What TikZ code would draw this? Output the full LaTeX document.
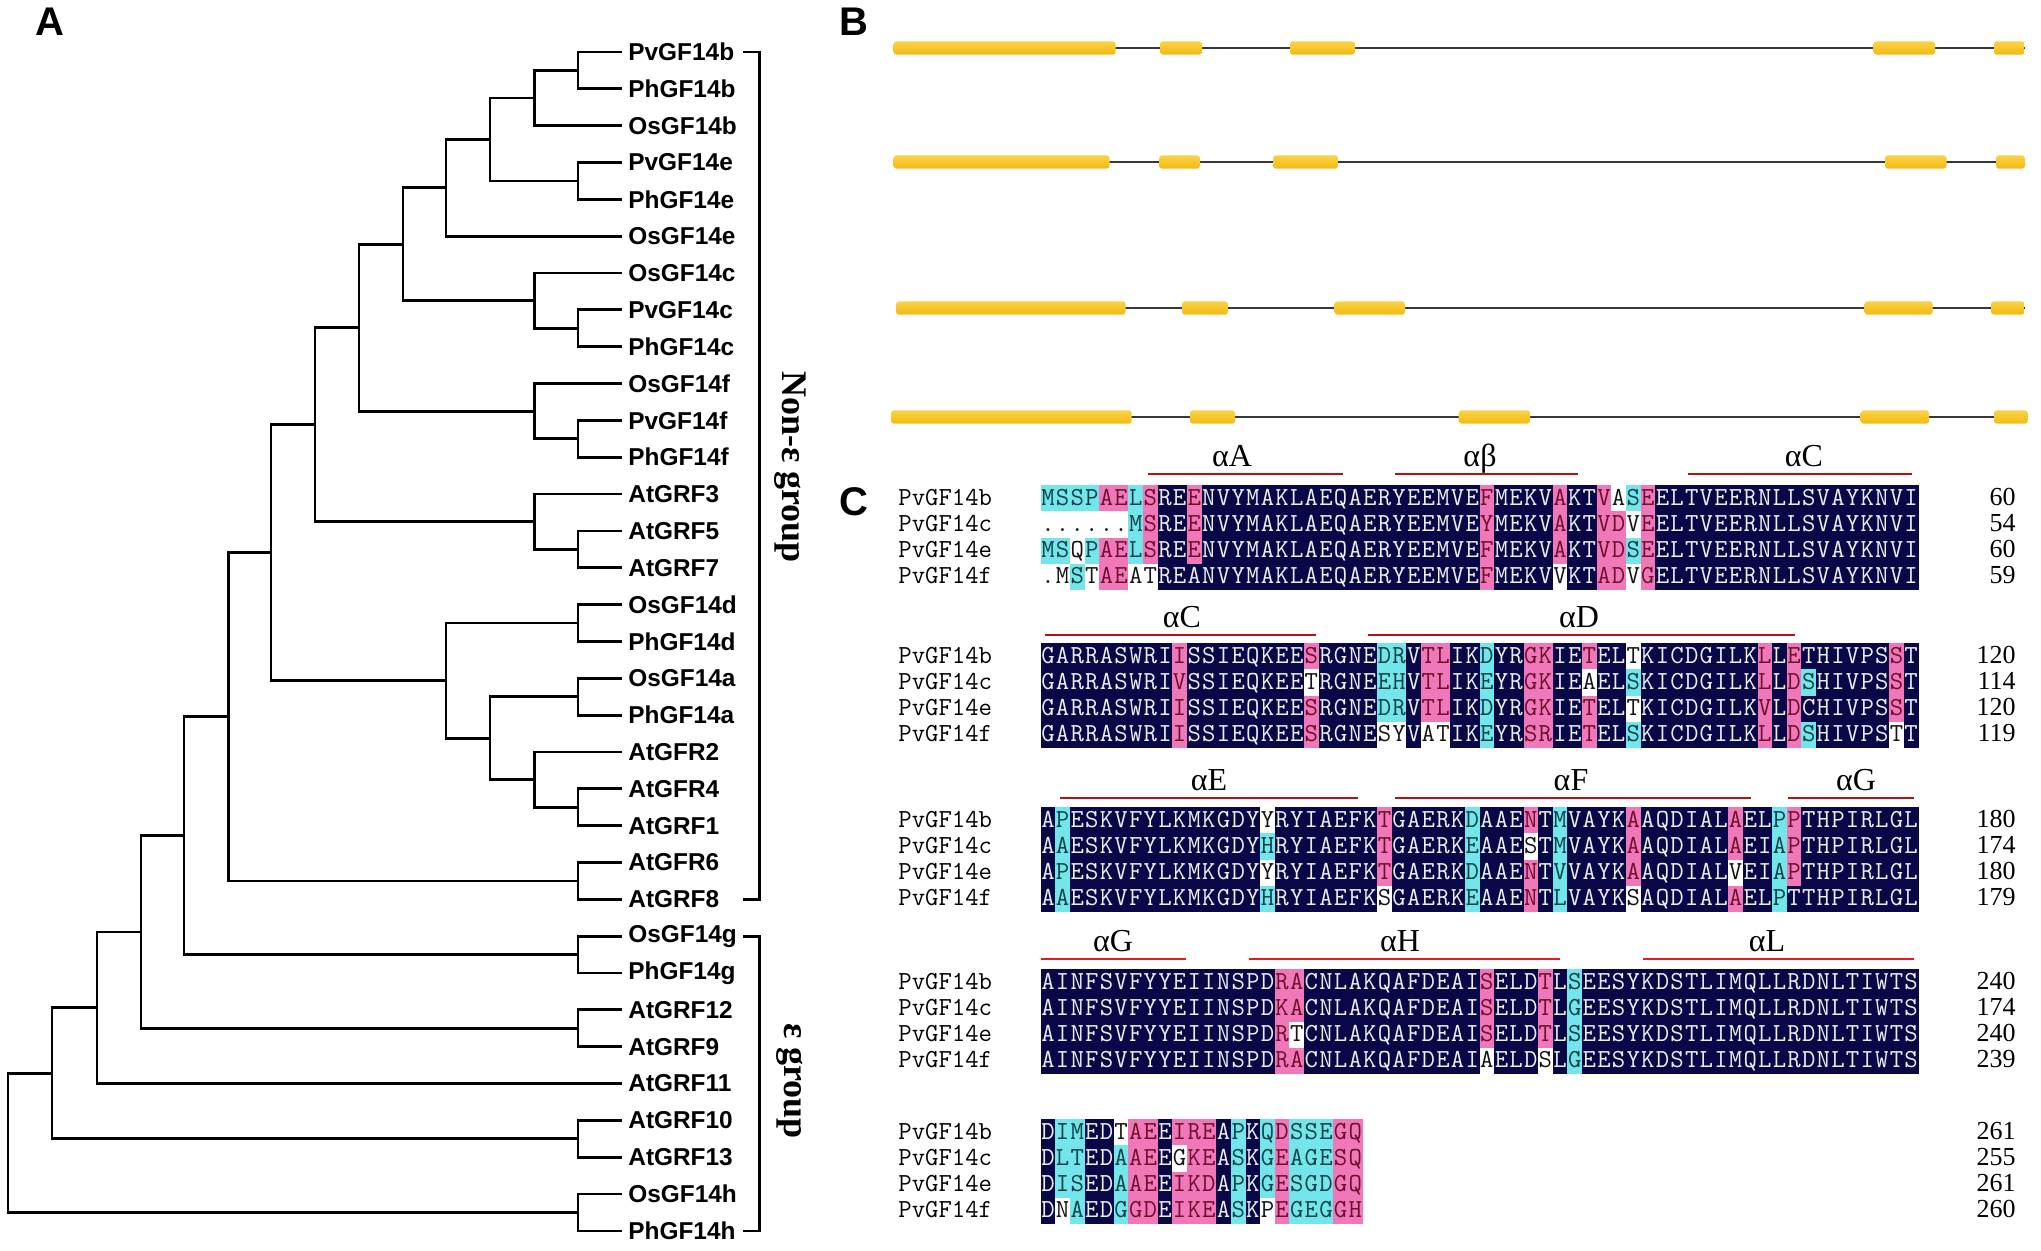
\documentclass[tikz,border=0pt]{standalone}
\usepackage{fontspec}
\setmainfont{Liberation Serif}
\setsansfont{Liberation Sans}
\usetikzlibrary{calc, positioning}

\definecolor{navy}{RGB}{8,8,72}
\definecolor{pinkcell}{RGB}{240,120,185}
\definecolor{cyancell}{RGB}{115,230,235}
\definecolor{exonyellow}{RGB}{243,186,18}
\definecolor{exonlight}{RGB}{250,210,70}
\definecolor{introngray}{RGB}{55,55,55}
\definecolor{helixred}{RGB}{175,20,20}
\definecolor{brightred}{RGB}{235,25,25}
\definecolor{txtn}{RGB}{238,238,242}
\definecolor{txtp}{RGB}{110,15,45}
\definecolor{txtc}{RGB}{15,65,70}
\definecolor{txtw}{RGB}{20,20,20}

\newcount\alncol
\newcommand\clade[4]{%
  \path ($(#3)!.5!(#4)$) coordinate (#1m);
  \coordinate (#1) at (#1m -| #2,0);
  \draw[branch] (#3) -| (#1) |- (#4);}
\newcommand\alncell[2]{%
  \fill[cell#2] ({1040.7+14.63*\the\alncol},{\alny-13.1}) rectangle ++(14.9,26.3);
  \node[res, text=txt#2] (\alnid-\the\alncol) at ({1048+14.63*\the\alncol},{\alny+7}) {#1};}
\def\alnnext#1#2\relax#3#4\relax{%
  \alncell{#1}{#3}%
  \global\advance\alncol by 1
  \ifx\relax#2\relax\else\alnnext#2\relax#4\relax\fi}
\newcommand\alnrow[6]{%
  \node[seqname] (#1name) at (898,{#2+7}) {#3};
  \node[seqnum] (#1num) at (2016,{#2+7}) {#4};
  \global\alncol=0
  \def\alnid{#1}\def\alny{#2}%
  \alnnext#5\relax#6\relax}

\begin{document}
\begin{tikzpicture}[
	x=0.5pt, y=-0.5pt,
	branch/.style = {line width=1.4pt},
	leaf/.style = {anchor=west, inner sep=3pt, font=\sffamily\bfseries\fontsize{12.2}{14}\selectfont},
	grouplabel/.style = {rotate=-90, font=\bfseries\fontsize{18}{20}\selectfont},
	panel/.style = {font=\sffamily\bfseries\fontsize{20}{22}\selectfont},
	exon/.style = {top color=exonlight, bottom color=exonyellow, rounded corners=1.5pt},
	intron/.style = {draw=introngray, line width=1pt},
	celln/.style = {fill=navy},
	cellp/.style = {fill=pinkcell},
	cellc/.style = {fill=cyancell},
	cellw/.style = {fill=white},
	res/.style = {anchor=base, inner sep=0pt, font=\ttfamily\fontsize{13}{15}\selectfont},
	seqname/.style = {anchor=base west, inner sep=0pt, font=\ttfamily\fontsize{13}{15}\selectfont},
	seqnum/.style = {anchor=base east, inner sep=0pt, font=\fontsize{13}{15}\selectfont},
	helix/.style = {line width=1.2pt},
	helixlabel/.style = {anchor=base, inner sep=0pt, font=\fontsize{16}{18}\selectfont}
]
\useasboundingbox (0,0) rectangle (2041,1250);

\node[panel] (labA) at (50,22) {A};
\node[panel] (labB) at (854,22) {B};
\node[panel] (labC) at (854,502) {C};

% tree
\foreach \name [count=\i] in {PvGF14b, PhGF14b, OsGF14b, PvGF14e, PhGF14e, OsGF14e, OsGF14c, PvGF14c, PhGF14c, OsGF14f, PvGF14f, PhGF14f, AtGRF3, AtGRF5, AtGRF7, OsGF14d, PhGF14d, OsGF14a, PhGF14a, AtGFR2, AtGFR4, AtGRF1, AtGFR6, AtGRF8, OsGF14g, PhGF14g, AtGRF12, AtGRF9, AtGRF11, AtGRF10, AtGRF13, OsGF14h, PhGF14h}
	\node[leaf] (\name) at (622,{52+(\i-1)*36.84}) {\name};

\clade{n1}{578}{PvGF14b.west}{PhGF14b.west}
\clade{n2}{534.5}{n1}{OsGF14b.west}
\clade{n3}{578}{PvGF14e.west}{PhGF14e.west}
\clade{n4}{490}{n2}{n3}
\clade{n5}{446}{n4}{OsGF14e.west}
\clade{n6}{578}{PvGF14c.west}{PhGF14c.west}
\clade{n7}{534.5}{OsGF14c.west}{n6}
\clade{n8}{403}{n5}{n7}
\clade{n9}{578}{PvGF14f.west}{PhGF14f.west}
\clade{n10}{534.5}{OsGF14f.west}{n9}
\clade{n11}{359}{n8}{n10}
\clade{n12}{578}{AtGRF5.west}{AtGRF7.west}
\clade{n13}{534.5}{AtGRF3.west}{n12}
\clade{n14}{315}{n11}{n13}
\clade{n15}{578}{OsGF14d.west}{PhGF14d.west}
\clade{n16}{578}{OsGF14a.west}{PhGF14a.west}
\clade{n17}{578}{AtGFR4.west}{AtGRF1.west}
\clade{n18}{534.5}{AtGFR2.west}{n17}
\clade{n19}{490}{n16}{n18}
\clade{n20}{446}{n15}{n19}
\clade{n21}{271}{n14}{n20}
\clade{n22}{578}{AtGFR6.west}{AtGRF8.west}
\clade{n23}{228.5}{n21}{n22}
\clade{n24}{578}{OsGF14g.west}{PhGF14g.west}
\clade{n25}{184}{n23}{n24}
\clade{n26}{578}{AtGRF12.west}{AtGRF9.west}
\clade{n27}{141}{n25}{n26}
\clade{n28}{97}{n27}{AtGRF11.west}
\clade{n29}{578}{AtGRF10.west}{AtGRF13.west}
\clade{n30}{52}{n28}{n29}
\clade{n31}{578}{OsGF14h.west}{PhGF14h.west}
\clade{root}{8}{n30}{n31}

\draw[branch] ($(PvGF14b.west)+(121,0)$) -- ++(16.5,0) |- ($(AtGRF8.west)+(121,0)$);
\draw[branch] ($(OsGF14g.west)+(121,0)$) -- ++(16.5,0) |- ($(PhGF14h.west)+(121,0)$);
\node[grouplabel] (nonepsilon) at (790,467) {Non-ε group};
\node[grouplabel] (epsilon) at (790,1081) {ε group};

% gene structures
\foreach \y/\s/\e/\exons in {
	48/893.6/2024.5/{893.6/1115.7, 1160/1202, 1290/1355, 1873.7/1935, 1994/2024.5},
	162/893.6/2025/{893.6/1109.5, 1159/1200, 1273/1338, 1885/1946.5, 1996/2025},
	308/896/2024.5/{896/1125.6, 1182/1228, 1334.6/1405, 1864.5/1932.6, 1991/2024.5},
	417/891/2027.6/{891/1131.7, 1190/1235, 1458.7/1530, 1860.7/1929, 1994/2027.6}}
{
	\draw[intron] (\s,\y) -- (\e,\y);
	\foreach \a/\b in \exons
		\shade[exon] (\a,\y-6.7) rectangle (\b,\y+6.7);
}

% alignment
\foreach \n/\a/\b/\y/\x/\t/\c in {hA/1148/1343/474/1232/αA/helixred, hB/1395/1578/474/1480/αβ/helixred, hC/1688/1912/474/1804/αC/helixred,
	hCC/1045/1316/635/1182/αC/helixred, hD/1368/1795/635/1579/αD/helixred,
	hE/1060/1358/798/1209/αE/helixred, hF/1395/1751/798/1571/αF/helixred, hG/1788/1914/798/1856/αG/helixred,
	hGG/1041/1186/959/1113/αG/brightred, hH/1249/1560/959/1400/αH/brightred, hL/1643/1914/959/1767/αL/brightred}
{
	\draw[helix, draw=\c] (\a,\y) coordinate (\n1) -- (\b,\y) coordinate (\n2);
	\node[helixlabel] (\n) at (\x,\y-8) {\t};
}

\alnrow{b1}{498.1}{PvGF14b}{60}{MSSPAELSRE ENVYMAKLAE QAERYEEMVE FMEKVAKTVA SEELTVEERN LLSVAYKNVI}{ccccppcpnn pnnnnnnnnn nnnnnnnnnn pnnnnpnnpw cpnnnnnnnn nnnnnnnnnn}
\alnrow{c1}{524.4}{PvGF14c}{54}{......MSRE ENVYMAKLAE QAERYEEMVE YMEKVAKTVD VEELTVEERN LLSVAYKNVI}{wwwwwwcpnn pnnnnnnnnn nnnnnnnnnn pnnnnpnnpp wpnnnnnnnn nnnnnnnnnn}
\alnrow{e1}{550.6}{PvGF14e}{60}{MSQPAELSRE ENVYMAKLAE QAERYEEMVE FMEKVAKTVD SEELTVEERN LLSVAYKNVI}{ccwcppcpnn pnnnnnnnnn nnnnnnnnnn pnnnnpnnpp cpnnnnnnnn nnnnnnnnnn}
\alnrow{f1}{576.9}{PvGF14f}{59}{.MSTAEATRE ANVYMAKLAE QAERYEEMVE FMEKVVKTAD VGELTVEERN LLSVAYKNVI}{wwcwppwwnn nnnnnnnnnn nnnnnnnnnn pnnnnwnnpp wpnnnnnnnn nnnnnnnnnn}

\alnrow{b2}{656.1}{PvGF14b}{120}{GARRASWRII SSIEQKEESR GNEDRVTLIK DYRGKIETEL TKICDGILKL LETHIVPSST}{nnnnnnnnnp nnnnnnnnpn nnnccnppnn cnnppnnpnn wnnnnnnnnp npnnnnnnpn}
\alnrow{c2}{682.4}{PvGF14c}{114}{GARRASWRIV SSIEQKEETR GNEEHVTLIK EYRGKIEAEL SKICDGILKL LDSHIVPSST}{nnnnnnnnnp nnnnnnnnwn nnnccnppnn cnnppnnwnn cnnnnnnnnp npcnnnnnpn}
\alnrow{e2}{708.6}{PvGF14e}{120}{GARRASWRII SSIEQKEESR GNEDRVTLIK DYRGKIETEL TKICDGILKV LDCHIVPSST}{nnnnnnnnnp nnnnnnnnpn nnnccnppnn cnnppnnpnn wnnnnnnnnp npnnnnnnpn}
\alnrow{f2}{734.9}{PvGF14f}{119}{GARRASWRII SSIEQKEESR GNESYVATIK EYRSRIETEL SKICDGILKL LDSHIVPSTT}{nnnnnnnnnp nnnnnnnnpn nnnwwnwwnn cnnppnnpnn cnnnnnnnnp npcnnnnnwn}

\alnrow{b3}{820.1}{PvGF14b}{180}{APESKVFYLK MKGDYYRYIA EFKTGAERKD AAENTMVAYK AAQDIALAEL PPTHPIRLGL}{ncnnnnnnnn nnnnnwnnnn nnnpnnnnnc nnnpncnnnn pnnnnnnpnn cpnnnnnnnn}
\alnrow{c3}{846.4}{PvGF14c}{174}{AAESKVFYLK MKGDYHRYIA EFKTGAERKE AAESTMVAYK AAQDIALAEI APTHPIRLGL}{ncnnnnnnnn nnnnncnnnn nnnpnnnnnc nnnwncnnnn pnnnnnnpnn cpnnnnnnnn}
\alnrow{e3}{872.6}{PvGF14e}{180}{APESKVFYLK MKGDYYRYIA EFKTGAERKD AAENTVVAYK AAQDIALVEI APTHPIRLGL}{ncnnnnnnnn nnnnnwnnnn nnnpnnnnnc nnnpncnnnn pnnnnnnwnn cpnnnnnnnn}
\alnrow{f3}{898.9}{PvGF14f}{179}{AAESKVFYLK MKGDYHRYIA EFKSGAERKE AAENTLVAYK SAQDIALAEL PTTHPIRLGL}{ncnnnnnnnn nnnnncnnnn nnnwnnnnnc nnnpncnnnn wnnnnnnpnn cnnnnnnnnn}

\alnrow{b4}{982.1}{PvGF14b}{240}{AINFSVFYYE IINSPDRACN LAKQAFDEAI SELDTLSEES YKDSTLIMQL LRDNLTIWTS}{nnnnnnnnnn nnnnnnppnn nnnnnnnnnn pnnnpncnnn nnnnnnnnnn nnnnnnnnnn}
\alnrow{c4}{1008.4}{PvGF14c}{174}{AINFSVFYYE IINSPDKACN LAKQAFDEAI SELDTLGEES YKDSTLIMQL LRDNLTIWTS}{nnnnnnnnnn nnnnnnppnn nnnnnnnnnn pnnnpncnnn nnnnnnnnnn nnnnnnnnnn}
\alnrow{e4}{1034.6}{PvGF14e}{240}{AINFSVFYYE IINSPDRTCN LAKQAFDEAI SELDTLSEES YKDSTLIMQL LRDNLTIWTS}{nnnnnnnnnn nnnnnnpwnn nnnnnnnnnn pnnnpncnnn nnnnnnnnnn nnnnnnnnnn}
\alnrow{f4}{1060.9}{PvGF14f}{239}{AINFSVFYYE IINSPDRACN LAKQAFDEAI AELDSLGEES YKDSTLIMQL LRDNLTIWTS}{nnnnnnnnnn nnnnnnppnn nnnnnnnnnn wnnnwncnnn nnnnnnnnnn nnnnnnnnnn}

\alnrow{b5}{1132.1}{PvGF14b}{261}{DIMEDTAEEI REAPKQDSSE GQ}{nccnnwppnp ppncncpccc pp}
\alnrow{c5}{1158.4}{PvGF14c}{255}{DLTEDAAEEG KEASKGEAGE SQ}{nccnncppnw ppncncpccc pp}
\alnrow{e5}{1184.6}{PvGF14e}{261}{DISEDAAEEI KDAPKGESGD GQ}{nccnncppnp ppncncpccc pp}
\alnrow{f5}{1210.9}{PvGF14f}{260}{DNAEDGGDEI KEASKPEGEG GH}{nwcnncppnp ppncnwpccc pp}

\end{tikzpicture}
\end{document}
